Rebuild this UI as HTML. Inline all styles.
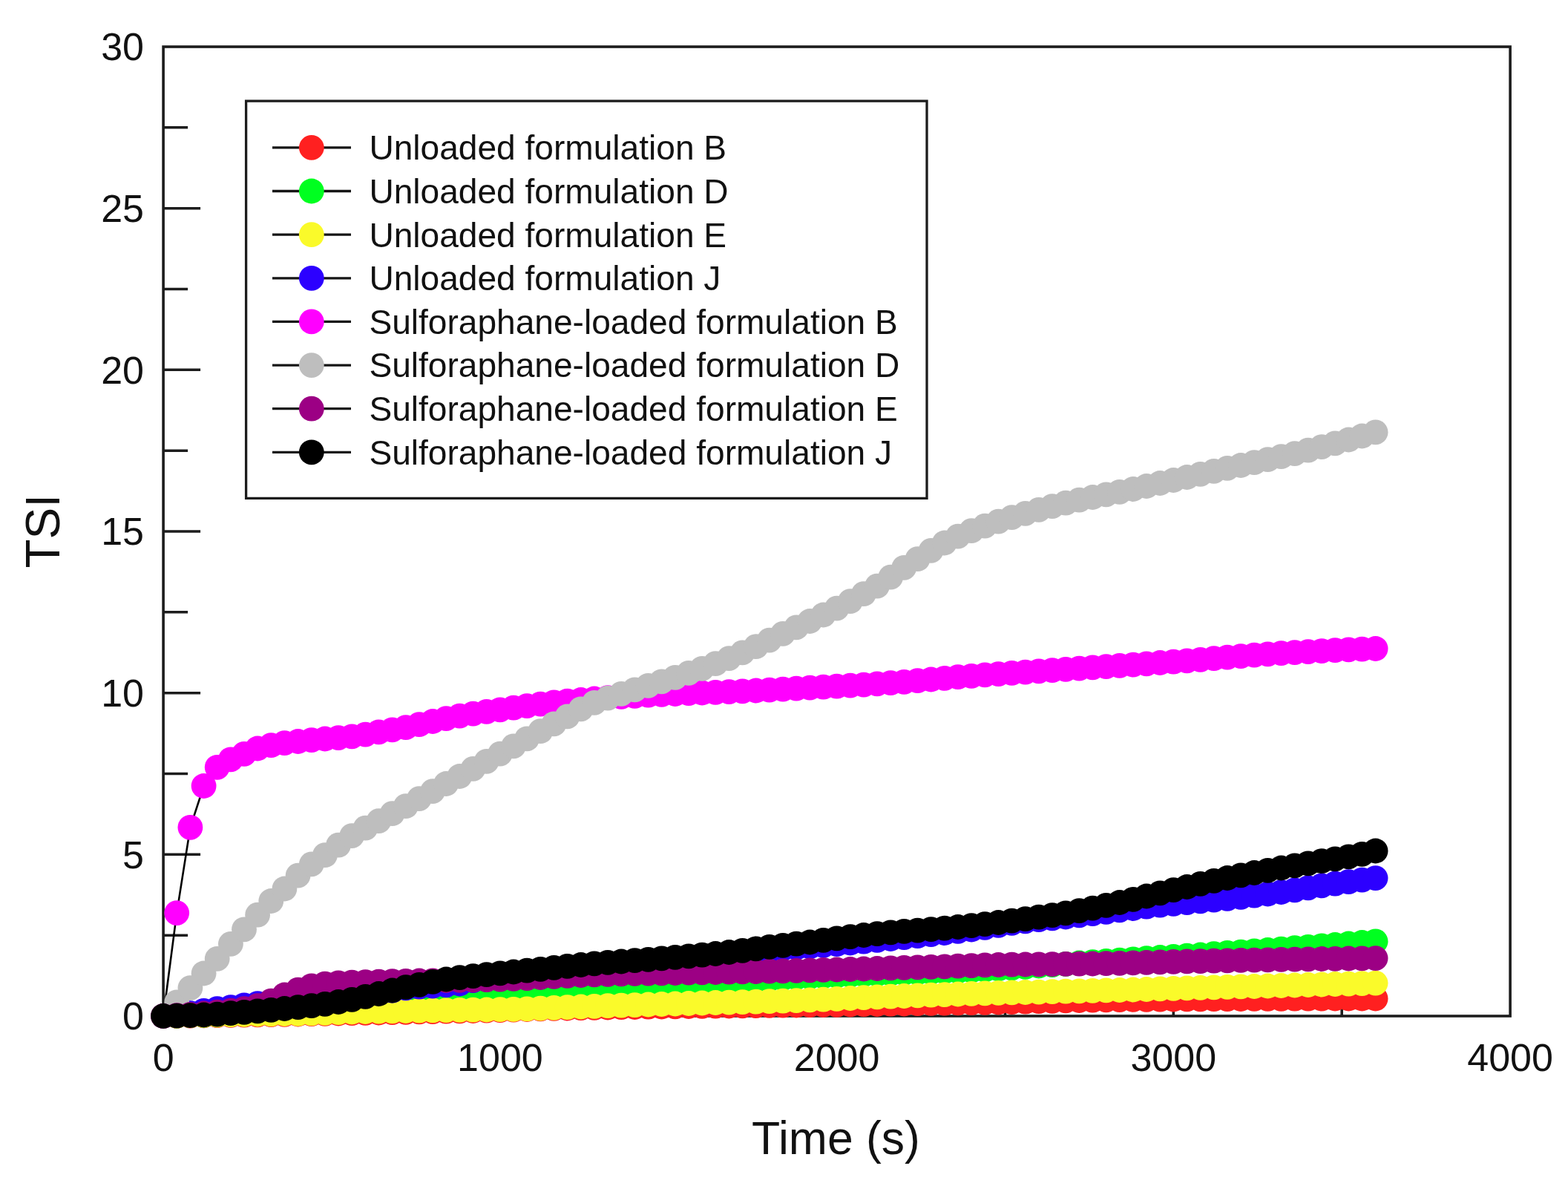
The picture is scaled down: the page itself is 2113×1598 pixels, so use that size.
<!DOCTYPE html><html><head><meta charset="utf-8"><title>TSI vs Time</title>
<style>html,body{margin:0;padding:0;background:#fff;overflow:hidden;}svg{display:block;} #wrap{width:2113px;height:1598px;}text{font-family:"Liberation Sans",Arial,sans-serif;fill:#111;}</style></head><body>
<div id="wrap">
<svg width="2113" height="1598" viewBox="0 0 2113 1598">
<rect x="0" y="0" width="2113" height="1598" fill="#fff"/>
<path d="M220.1 1260.2H253.1 M220.1 1151.3H270.1 M220.1 1042.5H253.1 M220.1 933.7H270.1 M220.1 824.8H253.1 M220.1 716.0H270.1 M220.1 607.2H253.1 M220.1 498.3H270.1 M220.1 389.5H253.1 M220.1 280.7H270.1 M220.1 171.8H253.1 M447.0 1369.0V1336.0 M673.9 1369.0V1319.0 M900.7 1369.0V1336.0 M1127.6 1369.0V1319.0 M1354.5 1369.0V1336.0 M1581.3 1369.0V1319.0 M1808.2 1369.0V1336.0" stroke="#1c1c1c" stroke-width="3.6" fill="none"/>
<rect x="220.1" y="63.0" width="1815.0" height="1306.0" fill="none" stroke="#1c1c1c" stroke-width="3.6"/>
<path d="M220.1 1369.0 L238.2 1368.8 L256.4 1368.6 L274.6 1368.4 L292.7 1368.1 L310.9 1367.9 L329.0 1367.7 L347.1 1367.4 L365.3 1367.1 L383.4 1366.8 L401.6 1366.5 L419.8 1366.2 L437.9 1365.9 L456.0 1365.5 L474.2 1365.2 L492.4 1364.8 L510.5 1364.5 L528.6 1364.1 L546.8 1363.8 L564.9 1363.4 L583.1 1363.1 L601.2 1362.7 L619.4 1362.4 L637.5 1362.0 L655.7 1361.6 L673.9 1361.2 L692.0 1360.6 L710.1 1360.0 L728.3 1359.4 L746.5 1358.9 L764.6 1358.5 L782.8 1358.1 L800.9 1357.8 L819.0 1357.5 L837.2 1357.2 L855.4 1357.0 L873.5 1356.7 L891.6 1356.5 L909.8 1356.3 L928.0 1356.0 L946.1 1355.8 L964.2 1355.7 L982.4 1355.5 L1000.5 1355.3 L1018.7 1355.1 L1036.8 1354.9 L1055.0 1354.7 L1073.1 1354.5 L1091.3 1354.2 L1109.5 1354.0 L1127.6 1353.8 L1145.8 1353.5 L1163.9 1353.2 L1182.0 1353.0 L1200.2 1352.7 L1218.3 1352.5 L1236.5 1352.2 L1254.6 1351.9 L1272.8 1351.7 L1290.9 1351.4 L1309.1 1351.1 L1327.2 1350.8 L1345.4 1350.5 L1363.5 1350.1 L1381.7 1349.7 L1399.8 1349.2 L1418.0 1348.8 L1436.1 1348.4 L1454.3 1348.0 L1472.4 1347.7 L1490.6 1347.4 L1508.7 1347.1 L1526.9 1346.9 L1545.0 1346.8 L1563.2 1346.6 L1581.3 1346.5 L1599.5 1346.4 L1617.6 1346.3 L1635.8 1346.2 L1653.9 1346.1 L1672.1 1346.0 L1690.2 1345.9 L1708.4 1345.8 L1726.5 1345.8 L1744.7 1345.7 L1762.8 1345.6 L1781.0 1345.6 L1799.1 1345.5 L1817.3 1345.5 L1835.4 1345.5 L1853.6 1345.5" stroke="#000" stroke-width="2.6" fill="none"/>
<g fill="#ff2020"><circle cx="220.1" cy="1369.0" r="16.9"/><circle cx="238.2" cy="1368.8" r="16.9"/><circle cx="256.4" cy="1368.6" r="16.9"/><circle cx="274.6" cy="1368.4" r="16.9"/><circle cx="292.7" cy="1368.1" r="16.9"/><circle cx="310.9" cy="1367.9" r="16.9"/><circle cx="329.0" cy="1367.7" r="16.9"/><circle cx="347.1" cy="1367.4" r="16.9"/><circle cx="365.3" cy="1367.1" r="16.9"/><circle cx="383.4" cy="1366.8" r="16.9"/><circle cx="401.6" cy="1366.5" r="16.9"/><circle cx="419.8" cy="1366.2" r="16.9"/><circle cx="437.9" cy="1365.9" r="16.9"/><circle cx="456.0" cy="1365.5" r="16.9"/><circle cx="474.2" cy="1365.2" r="16.9"/><circle cx="492.4" cy="1364.8" r="16.9"/><circle cx="510.5" cy="1364.5" r="16.9"/><circle cx="528.6" cy="1364.1" r="16.9"/><circle cx="546.8" cy="1363.8" r="16.9"/><circle cx="564.9" cy="1363.4" r="16.9"/><circle cx="583.1" cy="1363.1" r="16.9"/><circle cx="601.2" cy="1362.7" r="16.9"/><circle cx="619.4" cy="1362.4" r="16.9"/><circle cx="637.5" cy="1362.0" r="16.9"/><circle cx="655.7" cy="1361.6" r="16.9"/><circle cx="673.9" cy="1361.2" r="16.9"/><circle cx="692.0" cy="1360.6" r="16.9"/><circle cx="710.1" cy="1360.0" r="16.9"/><circle cx="728.3" cy="1359.4" r="16.9"/><circle cx="746.5" cy="1358.9" r="16.9"/><circle cx="764.6" cy="1358.5" r="16.9"/><circle cx="782.8" cy="1358.1" r="16.9"/><circle cx="800.9" cy="1357.8" r="16.9"/><circle cx="819.0" cy="1357.5" r="16.9"/><circle cx="837.2" cy="1357.2" r="16.9"/><circle cx="855.4" cy="1357.0" r="16.9"/><circle cx="873.5" cy="1356.7" r="16.9"/><circle cx="891.6" cy="1356.5" r="16.9"/><circle cx="909.8" cy="1356.3" r="16.9"/><circle cx="928.0" cy="1356.0" r="16.9"/><circle cx="946.1" cy="1355.8" r="16.9"/><circle cx="964.2" cy="1355.7" r="16.9"/><circle cx="982.4" cy="1355.5" r="16.9"/><circle cx="1000.5" cy="1355.3" r="16.9"/><circle cx="1018.7" cy="1355.1" r="16.9"/><circle cx="1036.8" cy="1354.9" r="16.9"/><circle cx="1055.0" cy="1354.7" r="16.9"/><circle cx="1073.1" cy="1354.5" r="16.9"/><circle cx="1091.3" cy="1354.2" r="16.9"/><circle cx="1109.5" cy="1354.0" r="16.9"/><circle cx="1127.6" cy="1353.8" r="16.9"/><circle cx="1145.8" cy="1353.5" r="16.9"/><circle cx="1163.9" cy="1353.2" r="16.9"/><circle cx="1182.0" cy="1353.0" r="16.9"/><circle cx="1200.2" cy="1352.7" r="16.9"/><circle cx="1218.3" cy="1352.5" r="16.9"/><circle cx="1236.5" cy="1352.2" r="16.9"/><circle cx="1254.6" cy="1351.9" r="16.9"/><circle cx="1272.8" cy="1351.7" r="16.9"/><circle cx="1290.9" cy="1351.4" r="16.9"/><circle cx="1309.1" cy="1351.1" r="16.9"/><circle cx="1327.2" cy="1350.8" r="16.9"/><circle cx="1345.4" cy="1350.5" r="16.9"/><circle cx="1363.5" cy="1350.1" r="16.9"/><circle cx="1381.7" cy="1349.7" r="16.9"/><circle cx="1399.8" cy="1349.2" r="16.9"/><circle cx="1418.0" cy="1348.8" r="16.9"/><circle cx="1436.1" cy="1348.4" r="16.9"/><circle cx="1454.3" cy="1348.0" r="16.9"/><circle cx="1472.4" cy="1347.7" r="16.9"/><circle cx="1490.6" cy="1347.4" r="16.9"/><circle cx="1508.7" cy="1347.1" r="16.9"/><circle cx="1526.9" cy="1346.9" r="16.9"/><circle cx="1545.0" cy="1346.8" r="16.9"/><circle cx="1563.2" cy="1346.6" r="16.9"/><circle cx="1581.3" cy="1346.5" r="16.9"/><circle cx="1599.5" cy="1346.4" r="16.9"/><circle cx="1617.6" cy="1346.3" r="16.9"/><circle cx="1635.8" cy="1346.2" r="16.9"/><circle cx="1653.9" cy="1346.1" r="16.9"/><circle cx="1672.1" cy="1346.0" r="16.9"/><circle cx="1690.2" cy="1345.9" r="16.9"/><circle cx="1708.4" cy="1345.8" r="16.9"/><circle cx="1726.5" cy="1345.8" r="16.9"/><circle cx="1744.7" cy="1345.7" r="16.9"/><circle cx="1762.8" cy="1345.6" r="16.9"/><circle cx="1781.0" cy="1345.6" r="16.9"/><circle cx="1799.1" cy="1345.5" r="16.9"/><circle cx="1817.3" cy="1345.5" r="16.9"/><circle cx="1835.4" cy="1345.5" r="16.9"/><circle cx="1853.6" cy="1345.5" r="16.9"/></g>
<path d="M220.1 1369.0 L238.2 1368.6 L256.4 1368.2 L274.6 1367.8 L292.7 1367.3 L310.9 1366.8 L329.0 1366.3 L347.1 1365.7 L365.3 1365.1 L383.4 1364.5 L401.6 1363.8 L419.8 1363.0 L437.9 1362.2 L456.0 1361.3 L474.2 1360.4 L492.4 1359.4 L510.5 1358.4 L528.6 1357.3 L546.8 1356.1 L564.9 1354.9 L583.1 1353.8 L601.2 1352.6 L619.4 1351.5 L637.5 1350.4 L655.7 1349.3 L673.9 1348.1 L692.0 1346.9 L710.1 1345.8 L728.3 1344.6 L746.5 1343.3 L764.6 1342.0 L782.8 1340.5 L800.9 1339.0 L819.0 1337.3 L837.2 1335.6 L855.4 1333.8 L873.5 1332.2 L891.6 1330.6 L909.8 1329.1 L928.0 1327.6 L946.1 1326.2 L964.2 1324.8 L982.4 1323.4 L1000.5 1322.0 L1018.7 1320.7 L1036.8 1319.5 L1055.0 1318.3 L1073.1 1317.3 L1091.3 1316.3 L1109.5 1315.5 L1127.6 1314.7 L1145.8 1313.9 L1163.9 1313.2 L1182.0 1312.5 L1200.2 1311.8 L1218.3 1311.1 L1236.5 1310.5 L1254.6 1309.9 L1272.8 1309.2 L1290.9 1308.5 L1309.1 1307.7 L1327.2 1306.7 L1345.4 1305.5 L1363.5 1304.3 L1381.7 1302.9 L1399.8 1301.5 L1418.0 1300.2 L1436.1 1298.8 L1454.3 1297.5 L1472.4 1296.1 L1490.6 1294.8 L1508.7 1293.6 L1526.9 1292.4 L1545.0 1291.2 L1563.2 1290.0 L1581.3 1288.9 L1599.5 1287.7 L1617.6 1286.5 L1635.8 1285.2 L1653.9 1283.9 L1672.1 1282.6 L1690.2 1281.3 L1708.4 1280.0 L1726.5 1278.6 L1744.7 1277.2 L1762.8 1275.8 L1781.0 1274.4 L1799.1 1273.0 L1817.3 1271.5 L1835.4 1270.0 L1853.6 1268.4" stroke="#000" stroke-width="2.6" fill="none"/>
<g fill="#00ff20"><circle cx="220.1" cy="1369.0" r="16.9"/><circle cx="238.2" cy="1368.6" r="16.9"/><circle cx="256.4" cy="1368.2" r="16.9"/><circle cx="274.6" cy="1367.8" r="16.9"/><circle cx="292.7" cy="1367.3" r="16.9"/><circle cx="310.9" cy="1366.8" r="16.9"/><circle cx="329.0" cy="1366.3" r="16.9"/><circle cx="347.1" cy="1365.7" r="16.9"/><circle cx="365.3" cy="1365.1" r="16.9"/><circle cx="383.4" cy="1364.5" r="16.9"/><circle cx="401.6" cy="1363.8" r="16.9"/><circle cx="419.8" cy="1363.0" r="16.9"/><circle cx="437.9" cy="1362.2" r="16.9"/><circle cx="456.0" cy="1361.3" r="16.9"/><circle cx="474.2" cy="1360.4" r="16.9"/><circle cx="492.4" cy="1359.4" r="16.9"/><circle cx="510.5" cy="1358.4" r="16.9"/><circle cx="528.6" cy="1357.3" r="16.9"/><circle cx="546.8" cy="1356.1" r="16.9"/><circle cx="564.9" cy="1354.9" r="16.9"/><circle cx="583.1" cy="1353.8" r="16.9"/><circle cx="601.2" cy="1352.6" r="16.9"/><circle cx="619.4" cy="1351.5" r="16.9"/><circle cx="637.5" cy="1350.4" r="16.9"/><circle cx="655.7" cy="1349.3" r="16.9"/><circle cx="673.9" cy="1348.1" r="16.9"/><circle cx="692.0" cy="1346.9" r="16.9"/><circle cx="710.1" cy="1345.8" r="16.9"/><circle cx="728.3" cy="1344.6" r="16.9"/><circle cx="746.5" cy="1343.3" r="16.9"/><circle cx="764.6" cy="1342.0" r="16.9"/><circle cx="782.8" cy="1340.5" r="16.9"/><circle cx="800.9" cy="1339.0" r="16.9"/><circle cx="819.0" cy="1337.3" r="16.9"/><circle cx="837.2" cy="1335.6" r="16.9"/><circle cx="855.4" cy="1333.8" r="16.9"/><circle cx="873.5" cy="1332.2" r="16.9"/><circle cx="891.6" cy="1330.6" r="16.9"/><circle cx="909.8" cy="1329.1" r="16.9"/><circle cx="928.0" cy="1327.6" r="16.9"/><circle cx="946.1" cy="1326.2" r="16.9"/><circle cx="964.2" cy="1324.8" r="16.9"/><circle cx="982.4" cy="1323.4" r="16.9"/><circle cx="1000.5" cy="1322.0" r="16.9"/><circle cx="1018.7" cy="1320.7" r="16.9"/><circle cx="1036.8" cy="1319.5" r="16.9"/><circle cx="1055.0" cy="1318.3" r="16.9"/><circle cx="1073.1" cy="1317.3" r="16.9"/><circle cx="1091.3" cy="1316.3" r="16.9"/><circle cx="1109.5" cy="1315.5" r="16.9"/><circle cx="1127.6" cy="1314.7" r="16.9"/><circle cx="1145.8" cy="1313.9" r="16.9"/><circle cx="1163.9" cy="1313.2" r="16.9"/><circle cx="1182.0" cy="1312.5" r="16.9"/><circle cx="1200.2" cy="1311.8" r="16.9"/><circle cx="1218.3" cy="1311.1" r="16.9"/><circle cx="1236.5" cy="1310.5" r="16.9"/><circle cx="1254.6" cy="1309.9" r="16.9"/><circle cx="1272.8" cy="1309.2" r="16.9"/><circle cx="1290.9" cy="1308.5" r="16.9"/><circle cx="1309.1" cy="1307.7" r="16.9"/><circle cx="1327.2" cy="1306.7" r="16.9"/><circle cx="1345.4" cy="1305.5" r="16.9"/><circle cx="1363.5" cy="1304.3" r="16.9"/><circle cx="1381.7" cy="1302.9" r="16.9"/><circle cx="1399.8" cy="1301.5" r="16.9"/><circle cx="1418.0" cy="1300.2" r="16.9"/><circle cx="1436.1" cy="1298.8" r="16.9"/><circle cx="1454.3" cy="1297.5" r="16.9"/><circle cx="1472.4" cy="1296.1" r="16.9"/><circle cx="1490.6" cy="1294.8" r="16.9"/><circle cx="1508.7" cy="1293.6" r="16.9"/><circle cx="1526.9" cy="1292.4" r="16.9"/><circle cx="1545.0" cy="1291.2" r="16.9"/><circle cx="1563.2" cy="1290.0" r="16.9"/><circle cx="1581.3" cy="1288.9" r="16.9"/><circle cx="1599.5" cy="1287.7" r="16.9"/><circle cx="1617.6" cy="1286.5" r="16.9"/><circle cx="1635.8" cy="1285.2" r="16.9"/><circle cx="1653.9" cy="1283.9" r="16.9"/><circle cx="1672.1" cy="1282.6" r="16.9"/><circle cx="1690.2" cy="1281.3" r="16.9"/><circle cx="1708.4" cy="1280.0" r="16.9"/><circle cx="1726.5" cy="1278.6" r="16.9"/><circle cx="1744.7" cy="1277.2" r="16.9"/><circle cx="1762.8" cy="1275.8" r="16.9"/><circle cx="1781.0" cy="1274.4" r="16.9"/><circle cx="1799.1" cy="1273.0" r="16.9"/><circle cx="1817.3" cy="1271.5" r="16.9"/><circle cx="1835.4" cy="1270.0" r="16.9"/><circle cx="1853.6" cy="1268.4" r="16.9"/></g>
<path d="M220.1 1369.0 L238.2 1368.6 L256.4 1368.2 L274.6 1367.9 L292.7 1367.5 L310.9 1367.2 L329.0 1366.8 L347.1 1366.5 L365.3 1366.3 L383.4 1366.0 L401.6 1365.8 L419.8 1365.4 L437.9 1364.9 L456.0 1364.2 L474.2 1363.5 L492.4 1363.0 L510.5 1362.6 L528.6 1362.3 L546.8 1362.0 L564.9 1361.7 L583.1 1361.4 L601.2 1361.1 L619.4 1360.9 L637.5 1360.7 L655.7 1360.5 L673.9 1360.2 L692.0 1359.9 L710.1 1359.4 L728.3 1358.6 L746.5 1357.8 L764.6 1357.1 L782.8 1356.5 L800.9 1355.8 L819.0 1355.2 L837.2 1354.7 L855.4 1354.1 L873.5 1353.5 L891.6 1353.0 L909.8 1352.5 L928.0 1352.0 L946.1 1351.5 L964.2 1351.0 L982.4 1350.6 L1000.5 1350.1 L1018.7 1349.7 L1036.8 1349.2 L1055.0 1348.7 L1073.1 1348.1 L1091.3 1347.4 L1109.5 1346.7 L1127.6 1345.9 L1145.8 1345.0 L1163.9 1344.2 L1182.0 1343.4 L1200.2 1342.7 L1218.3 1342.0 L1236.5 1341.4 L1254.6 1340.7 L1272.8 1340.1 L1290.9 1339.5 L1309.1 1338.9 L1327.2 1338.4 L1345.4 1337.9 L1363.5 1337.4 L1381.7 1337.0 L1399.8 1336.6 L1418.0 1336.1 L1436.1 1335.7 L1454.3 1335.3 L1472.4 1334.9 L1490.6 1334.4 L1508.7 1334.0 L1526.9 1333.5 L1545.0 1333.0 L1563.2 1332.4 L1581.3 1331.9 L1599.5 1331.4 L1617.6 1330.9 L1635.8 1330.4 L1653.9 1329.9 L1672.1 1329.4 L1690.2 1329.0 L1708.4 1328.5 L1726.5 1328.0 L1744.7 1327.5 L1762.8 1327.0 L1781.0 1326.5 L1799.1 1326.0 L1817.3 1325.6 L1835.4 1325.1 L1853.6 1324.6" stroke="#000" stroke-width="2.6" fill="none"/>
<g fill="#fafa2a"><circle cx="220.1" cy="1369.0" r="16.9"/><circle cx="238.2" cy="1368.6" r="16.9"/><circle cx="256.4" cy="1368.2" r="16.9"/><circle cx="274.6" cy="1367.9" r="16.9"/><circle cx="292.7" cy="1367.5" r="16.9"/><circle cx="310.9" cy="1367.2" r="16.9"/><circle cx="329.0" cy="1366.8" r="16.9"/><circle cx="347.1" cy="1366.5" r="16.9"/><circle cx="365.3" cy="1366.3" r="16.9"/><circle cx="383.4" cy="1366.0" r="16.9"/><circle cx="401.6" cy="1365.8" r="16.9"/><circle cx="419.8" cy="1365.4" r="16.9"/><circle cx="437.9" cy="1364.9" r="16.9"/><circle cx="456.0" cy="1364.2" r="16.9"/><circle cx="474.2" cy="1363.5" r="16.9"/><circle cx="492.4" cy="1363.0" r="16.9"/><circle cx="510.5" cy="1362.6" r="16.9"/><circle cx="528.6" cy="1362.3" r="16.9"/><circle cx="546.8" cy="1362.0" r="16.9"/><circle cx="564.9" cy="1361.7" r="16.9"/><circle cx="583.1" cy="1361.4" r="16.9"/><circle cx="601.2" cy="1361.1" r="16.9"/><circle cx="619.4" cy="1360.9" r="16.9"/><circle cx="637.5" cy="1360.7" r="16.9"/><circle cx="655.7" cy="1360.5" r="16.9"/><circle cx="673.9" cy="1360.2" r="16.9"/><circle cx="692.0" cy="1359.9" r="16.9"/><circle cx="710.1" cy="1359.4" r="16.9"/><circle cx="728.3" cy="1358.6" r="16.9"/><circle cx="746.5" cy="1357.8" r="16.9"/><circle cx="764.6" cy="1357.1" r="16.9"/><circle cx="782.8" cy="1356.5" r="16.9"/><circle cx="800.9" cy="1355.8" r="16.9"/><circle cx="819.0" cy="1355.2" r="16.9"/><circle cx="837.2" cy="1354.7" r="16.9"/><circle cx="855.4" cy="1354.1" r="16.9"/><circle cx="873.5" cy="1353.5" r="16.9"/><circle cx="891.6" cy="1353.0" r="16.9"/><circle cx="909.8" cy="1352.5" r="16.9"/><circle cx="928.0" cy="1352.0" r="16.9"/><circle cx="946.1" cy="1351.5" r="16.9"/><circle cx="964.2" cy="1351.0" r="16.9"/><circle cx="982.4" cy="1350.6" r="16.9"/><circle cx="1000.5" cy="1350.1" r="16.9"/><circle cx="1018.7" cy="1349.7" r="16.9"/><circle cx="1036.8" cy="1349.2" r="16.9"/><circle cx="1055.0" cy="1348.7" r="16.9"/><circle cx="1073.1" cy="1348.1" r="16.9"/><circle cx="1091.3" cy="1347.4" r="16.9"/><circle cx="1109.5" cy="1346.7" r="16.9"/><circle cx="1127.6" cy="1345.9" r="16.9"/><circle cx="1145.8" cy="1345.0" r="16.9"/><circle cx="1163.9" cy="1344.2" r="16.9"/><circle cx="1182.0" cy="1343.4" r="16.9"/><circle cx="1200.2" cy="1342.7" r="16.9"/><circle cx="1218.3" cy="1342.0" r="16.9"/><circle cx="1236.5" cy="1341.4" r="16.9"/><circle cx="1254.6" cy="1340.7" r="16.9"/><circle cx="1272.8" cy="1340.1" r="16.9"/><circle cx="1290.9" cy="1339.5" r="16.9"/><circle cx="1309.1" cy="1338.9" r="16.9"/><circle cx="1327.2" cy="1338.4" r="16.9"/><circle cx="1345.4" cy="1337.9" r="16.9"/><circle cx="1363.5" cy="1337.4" r="16.9"/><circle cx="1381.7" cy="1337.0" r="16.9"/><circle cx="1399.8" cy="1336.6" r="16.9"/><circle cx="1418.0" cy="1336.1" r="16.9"/><circle cx="1436.1" cy="1335.7" r="16.9"/><circle cx="1454.3" cy="1335.3" r="16.9"/><circle cx="1472.4" cy="1334.9" r="16.9"/><circle cx="1490.6" cy="1334.4" r="16.9"/><circle cx="1508.7" cy="1334.0" r="16.9"/><circle cx="1526.9" cy="1333.5" r="16.9"/><circle cx="1545.0" cy="1333.0" r="16.9"/><circle cx="1563.2" cy="1332.4" r="16.9"/><circle cx="1581.3" cy="1331.9" r="16.9"/><circle cx="1599.5" cy="1331.4" r="16.9"/><circle cx="1617.6" cy="1330.9" r="16.9"/><circle cx="1635.8" cy="1330.4" r="16.9"/><circle cx="1653.9" cy="1329.9" r="16.9"/><circle cx="1672.1" cy="1329.4" r="16.9"/><circle cx="1690.2" cy="1329.0" r="16.9"/><circle cx="1708.4" cy="1328.5" r="16.9"/><circle cx="1726.5" cy="1328.0" r="16.9"/><circle cx="1744.7" cy="1327.5" r="16.9"/><circle cx="1762.8" cy="1327.0" r="16.9"/><circle cx="1781.0" cy="1326.5" r="16.9"/><circle cx="1799.1" cy="1326.0" r="16.9"/><circle cx="1817.3" cy="1325.6" r="16.9"/><circle cx="1835.4" cy="1325.1" r="16.9"/><circle cx="1853.6" cy="1324.6" r="16.9"/></g>
<path d="M220.1 1369.0 L238.2 1367.4 L256.4 1365.1 L274.6 1361.8 L292.7 1359.2 L310.9 1357.1 L329.0 1354.3 L347.1 1352.1 L365.3 1350.3 L383.4 1348.8 L401.6 1347.2 L419.8 1345.5 L437.9 1343.7 L456.0 1342.2 L474.2 1340.9 L492.4 1339.4 L510.5 1337.5 L528.6 1334.7 L546.8 1331.4 L564.9 1329.7 L583.1 1328.6 L601.2 1327.4 L619.4 1325.5 L637.5 1321.1 L655.7 1318.1 L673.9 1315.9 L692.0 1314.1 L710.1 1312.4 L728.3 1310.6 L746.5 1308.9 L764.6 1307.2 L782.8 1305.7 L800.9 1304.4 L819.0 1303.2 L837.2 1301.9 L855.4 1300.7 L873.5 1299.4 L891.6 1298.0 L909.8 1296.3 L928.0 1294.5 L946.1 1292.6 L964.2 1290.5 L982.4 1288.3 L1000.5 1285.9 L1018.7 1283.2 L1036.8 1280.5 L1055.0 1278.4 L1073.1 1277.0 L1091.3 1275.5 L1109.5 1273.9 L1127.6 1272.2 L1145.8 1270.5 L1163.9 1268.7 L1182.0 1266.9 L1200.2 1265.0 L1218.3 1263.1 L1236.5 1261.2 L1254.6 1259.1 L1272.8 1257.0 L1290.9 1254.8 L1309.1 1252.5 L1327.2 1249.8 L1345.4 1246.8 L1363.5 1243.8 L1381.7 1241.3 L1399.8 1239.2 L1418.0 1237.4 L1436.1 1235.5 L1454.3 1233.3 L1472.4 1231.1 L1490.6 1228.8 L1508.7 1226.4 L1526.9 1224.0 L1545.0 1221.7 L1563.2 1219.7 L1581.3 1217.9 L1599.5 1216.1 L1617.6 1214.3 L1635.8 1212.6 L1653.9 1210.8 L1672.1 1208.8 L1690.2 1206.7 L1708.4 1204.5 L1726.5 1202.0 L1744.7 1199.3 L1762.8 1196.3 L1781.0 1193.4 L1799.1 1190.7 L1817.3 1188.2 L1835.4 1185.6 L1853.6 1183.1" stroke="#000" stroke-width="2.6" fill="none"/>
<g fill="#2c00ff"><circle cx="220.1" cy="1369.0" r="16.9"/><circle cx="238.2" cy="1367.4" r="16.9"/><circle cx="256.4" cy="1365.1" r="16.9"/><circle cx="274.6" cy="1361.8" r="16.9"/><circle cx="292.7" cy="1359.2" r="16.9"/><circle cx="310.9" cy="1357.1" r="16.9"/><circle cx="329.0" cy="1354.3" r="16.9"/><circle cx="347.1" cy="1352.1" r="16.9"/><circle cx="365.3" cy="1350.3" r="16.9"/><circle cx="383.4" cy="1348.8" r="16.9"/><circle cx="401.6" cy="1347.2" r="16.9"/><circle cx="419.8" cy="1345.5" r="16.9"/><circle cx="437.9" cy="1343.7" r="16.9"/><circle cx="456.0" cy="1342.2" r="16.9"/><circle cx="474.2" cy="1340.9" r="16.9"/><circle cx="492.4" cy="1339.4" r="16.9"/><circle cx="510.5" cy="1337.5" r="16.9"/><circle cx="528.6" cy="1334.7" r="16.9"/><circle cx="546.8" cy="1331.4" r="16.9"/><circle cx="564.9" cy="1329.7" r="16.9"/><circle cx="583.1" cy="1328.6" r="16.9"/><circle cx="601.2" cy="1327.4" r="16.9"/><circle cx="619.4" cy="1325.5" r="16.9"/><circle cx="637.5" cy="1321.1" r="16.9"/><circle cx="655.7" cy="1318.1" r="16.9"/><circle cx="673.9" cy="1315.9" r="16.9"/><circle cx="692.0" cy="1314.1" r="16.9"/><circle cx="710.1" cy="1312.4" r="16.9"/><circle cx="728.3" cy="1310.6" r="16.9"/><circle cx="746.5" cy="1308.9" r="16.9"/><circle cx="764.6" cy="1307.2" r="16.9"/><circle cx="782.8" cy="1305.7" r="16.9"/><circle cx="800.9" cy="1304.4" r="16.9"/><circle cx="819.0" cy="1303.2" r="16.9"/><circle cx="837.2" cy="1301.9" r="16.9"/><circle cx="855.4" cy="1300.7" r="16.9"/><circle cx="873.5" cy="1299.4" r="16.9"/><circle cx="891.6" cy="1298.0" r="16.9"/><circle cx="909.8" cy="1296.3" r="16.9"/><circle cx="928.0" cy="1294.5" r="16.9"/><circle cx="946.1" cy="1292.6" r="16.9"/><circle cx="964.2" cy="1290.5" r="16.9"/><circle cx="982.4" cy="1288.3" r="16.9"/><circle cx="1000.5" cy="1285.9" r="16.9"/><circle cx="1018.7" cy="1283.2" r="16.9"/><circle cx="1036.8" cy="1280.5" r="16.9"/><circle cx="1055.0" cy="1278.4" r="16.9"/><circle cx="1073.1" cy="1277.0" r="16.9"/><circle cx="1091.3" cy="1275.5" r="16.9"/><circle cx="1109.5" cy="1273.9" r="16.9"/><circle cx="1127.6" cy="1272.2" r="16.9"/><circle cx="1145.8" cy="1270.5" r="16.9"/><circle cx="1163.9" cy="1268.7" r="16.9"/><circle cx="1182.0" cy="1266.9" r="16.9"/><circle cx="1200.2" cy="1265.0" r="16.9"/><circle cx="1218.3" cy="1263.1" r="16.9"/><circle cx="1236.5" cy="1261.2" r="16.9"/><circle cx="1254.6" cy="1259.1" r="16.9"/><circle cx="1272.8" cy="1257.0" r="16.9"/><circle cx="1290.9" cy="1254.8" r="16.9"/><circle cx="1309.1" cy="1252.5" r="16.9"/><circle cx="1327.2" cy="1249.8" r="16.9"/><circle cx="1345.4" cy="1246.8" r="16.9"/><circle cx="1363.5" cy="1243.8" r="16.9"/><circle cx="1381.7" cy="1241.3" r="16.9"/><circle cx="1399.8" cy="1239.2" r="16.9"/><circle cx="1418.0" cy="1237.4" r="16.9"/><circle cx="1436.1" cy="1235.5" r="16.9"/><circle cx="1454.3" cy="1233.3" r="16.9"/><circle cx="1472.4" cy="1231.1" r="16.9"/><circle cx="1490.6" cy="1228.8" r="16.9"/><circle cx="1508.7" cy="1226.4" r="16.9"/><circle cx="1526.9" cy="1224.0" r="16.9"/><circle cx="1545.0" cy="1221.7" r="16.9"/><circle cx="1563.2" cy="1219.7" r="16.9"/><circle cx="1581.3" cy="1217.9" r="16.9"/><circle cx="1599.5" cy="1216.1" r="16.9"/><circle cx="1617.6" cy="1214.3" r="16.9"/><circle cx="1635.8" cy="1212.6" r="16.9"/><circle cx="1653.9" cy="1210.8" r="16.9"/><circle cx="1672.1" cy="1208.8" r="16.9"/><circle cx="1690.2" cy="1206.7" r="16.9"/><circle cx="1708.4" cy="1204.5" r="16.9"/><circle cx="1726.5" cy="1202.0" r="16.9"/><circle cx="1744.7" cy="1199.3" r="16.9"/><circle cx="1762.8" cy="1196.3" r="16.9"/><circle cx="1781.0" cy="1193.4" r="16.9"/><circle cx="1799.1" cy="1190.7" r="16.9"/><circle cx="1817.3" cy="1188.2" r="16.9"/><circle cx="1835.4" cy="1185.6" r="16.9"/><circle cx="1853.6" cy="1183.1" r="16.9"/></g>
<path d="M220.1 1369.0 L238.2 1230.1 L256.4 1114.8 L274.6 1059.0 L292.7 1033.8 L310.9 1023.3 L329.0 1015.9 L347.1 1008.5 L365.3 1004.2 L383.4 1001.1 L401.6 999.0 L419.8 997.1 L437.9 995.5 L456.0 994.1 L474.2 992.4 L492.4 989.6 L510.5 986.3 L528.6 983.4 L546.8 980.2 L564.9 976.2 L583.1 972.0 L601.2 968.1 L619.4 964.6 L637.5 961.6 L655.7 958.9 L673.9 956.3 L692.0 953.7 L710.1 951.1 L728.3 948.6 L746.5 946.4 L764.6 944.6 L782.8 943.0 L800.9 941.5 L819.0 940.1 L837.2 938.9 L855.4 937.8 L873.5 936.7 L891.6 935.8 L909.8 935.0 L928.0 934.2 L946.1 933.5 L964.2 932.8 L982.4 932.1 L1000.5 931.3 L1018.7 930.5 L1036.8 929.6 L1055.0 928.6 L1073.1 927.6 L1091.3 926.6 L1109.5 925.7 L1127.6 924.7 L1145.8 923.6 L1163.9 922.6 L1182.0 921.4 L1200.2 920.2 L1218.3 918.8 L1236.5 917.2 L1254.6 915.5 L1272.8 913.8 L1290.9 912.2 L1309.1 910.8 L1327.2 909.4 L1345.4 908.1 L1363.5 906.9 L1381.7 905.6 L1399.8 904.4 L1418.0 903.2 L1436.1 901.9 L1454.3 900.6 L1472.4 899.4 L1490.6 898.1 L1508.7 896.9 L1526.9 895.6 L1545.0 894.3 L1563.2 893.0 L1581.3 891.7 L1599.5 890.3 L1617.6 888.8 L1635.8 887.2 L1653.9 885.6 L1672.1 884.1 L1690.2 882.6 L1708.4 881.3 L1726.5 880.1 L1744.7 879.1 L1762.8 878.1 L1781.0 877.1 L1799.1 876.2 L1817.3 875.4 L1835.4 874.7 L1853.6 874.0" stroke="#000" stroke-width="2.6" fill="none"/>
<g fill="#ff00ff"><circle cx="220.1" cy="1369.0" r="16.9"/><circle cx="238.2" cy="1230.1" r="16.9"/><circle cx="256.4" cy="1114.8" r="16.9"/><circle cx="274.6" cy="1059.0" r="16.9"/><circle cx="292.7" cy="1033.8" r="16.9"/><circle cx="310.9" cy="1023.3" r="16.9"/><circle cx="329.0" cy="1015.9" r="16.9"/><circle cx="347.1" cy="1008.5" r="16.9"/><circle cx="365.3" cy="1004.2" r="16.9"/><circle cx="383.4" cy="1001.1" r="16.9"/><circle cx="401.6" cy="999.0" r="16.9"/><circle cx="419.8" cy="997.1" r="16.9"/><circle cx="437.9" cy="995.5" r="16.9"/><circle cx="456.0" cy="994.1" r="16.9"/><circle cx="474.2" cy="992.4" r="16.9"/><circle cx="492.4" cy="989.6" r="16.9"/><circle cx="510.5" cy="986.3" r="16.9"/><circle cx="528.6" cy="983.4" r="16.9"/><circle cx="546.8" cy="980.2" r="16.9"/><circle cx="564.9" cy="976.2" r="16.9"/><circle cx="583.1" cy="972.0" r="16.9"/><circle cx="601.2" cy="968.1" r="16.9"/><circle cx="619.4" cy="964.6" r="16.9"/><circle cx="637.5" cy="961.6" r="16.9"/><circle cx="655.7" cy="958.9" r="16.9"/><circle cx="673.9" cy="956.3" r="16.9"/><circle cx="692.0" cy="953.7" r="16.9"/><circle cx="710.1" cy="951.1" r="16.9"/><circle cx="728.3" cy="948.6" r="16.9"/><circle cx="746.5" cy="946.4" r="16.9"/><circle cx="764.6" cy="944.6" r="16.9"/><circle cx="782.8" cy="943.0" r="16.9"/><circle cx="800.9" cy="941.5" r="16.9"/><circle cx="819.0" cy="940.1" r="16.9"/><circle cx="837.2" cy="938.9" r="16.9"/><circle cx="855.4" cy="937.8" r="16.9"/><circle cx="873.5" cy="936.7" r="16.9"/><circle cx="891.6" cy="935.8" r="16.9"/><circle cx="909.8" cy="935.0" r="16.9"/><circle cx="928.0" cy="934.2" r="16.9"/><circle cx="946.1" cy="933.5" r="16.9"/><circle cx="964.2" cy="932.8" r="16.9"/><circle cx="982.4" cy="932.1" r="16.9"/><circle cx="1000.5" cy="931.3" r="16.9"/><circle cx="1018.7" cy="930.5" r="16.9"/><circle cx="1036.8" cy="929.6" r="16.9"/><circle cx="1055.0" cy="928.6" r="16.9"/><circle cx="1073.1" cy="927.6" r="16.9"/><circle cx="1091.3" cy="926.6" r="16.9"/><circle cx="1109.5" cy="925.7" r="16.9"/><circle cx="1127.6" cy="924.7" r="16.9"/><circle cx="1145.8" cy="923.6" r="16.9"/><circle cx="1163.9" cy="922.6" r="16.9"/><circle cx="1182.0" cy="921.4" r="16.9"/><circle cx="1200.2" cy="920.2" r="16.9"/><circle cx="1218.3" cy="918.8" r="16.9"/><circle cx="1236.5" cy="917.2" r="16.9"/><circle cx="1254.6" cy="915.5" r="16.9"/><circle cx="1272.8" cy="913.8" r="16.9"/><circle cx="1290.9" cy="912.2" r="16.9"/><circle cx="1309.1" cy="910.8" r="16.9"/><circle cx="1327.2" cy="909.4" r="16.9"/><circle cx="1345.4" cy="908.1" r="16.9"/><circle cx="1363.5" cy="906.9" r="16.9"/><circle cx="1381.7" cy="905.6" r="16.9"/><circle cx="1399.8" cy="904.4" r="16.9"/><circle cx="1418.0" cy="903.2" r="16.9"/><circle cx="1436.1" cy="901.9" r="16.9"/><circle cx="1454.3" cy="900.6" r="16.9"/><circle cx="1472.4" cy="899.4" r="16.9"/><circle cx="1490.6" cy="898.1" r="16.9"/><circle cx="1508.7" cy="896.9" r="16.9"/><circle cx="1526.9" cy="895.6" r="16.9"/><circle cx="1545.0" cy="894.3" r="16.9"/><circle cx="1563.2" cy="893.0" r="16.9"/><circle cx="1581.3" cy="891.7" r="16.9"/><circle cx="1599.5" cy="890.3" r="16.9"/><circle cx="1617.6" cy="888.8" r="16.9"/><circle cx="1635.8" cy="887.2" r="16.9"/><circle cx="1653.9" cy="885.6" r="16.9"/><circle cx="1672.1" cy="884.1" r="16.9"/><circle cx="1690.2" cy="882.6" r="16.9"/><circle cx="1708.4" cy="881.3" r="16.9"/><circle cx="1726.5" cy="880.1" r="16.9"/><circle cx="1744.7" cy="879.1" r="16.9"/><circle cx="1762.8" cy="878.1" r="16.9"/><circle cx="1781.0" cy="877.1" r="16.9"/><circle cx="1799.1" cy="876.2" r="16.9"/><circle cx="1817.3" cy="875.4" r="16.9"/><circle cx="1835.4" cy="874.7" r="16.9"/><circle cx="1853.6" cy="874.0" r="16.9"/></g>
<path d="M220.1 1369.0 L238.2 1350.3 L256.4 1331.1 L274.6 1311.5 L292.7 1291.9 L310.9 1271.9 L329.0 1252.3 L347.1 1232.7 L365.3 1214.0 L383.4 1197.5 L401.6 1179.6 L419.8 1164.4 L437.9 1152.2 L456.0 1138.7 L474.2 1126.1 L492.4 1115.7 L510.5 1106.1 L528.6 1096.2 L546.8 1086.2 L564.9 1076.1 L583.1 1066.1 L601.2 1056.0 L619.4 1046.0 L637.5 1035.9 L655.7 1025.8 L673.9 1015.6 L692.0 1005.4 L710.1 995.3 L728.3 985.2 L746.5 975.3 L764.6 965.4 L782.8 955.3 L800.9 946.8 L819.0 940.6 L837.2 934.9 L855.4 929.3 L873.5 923.8 L891.6 918.3 L909.8 912.8 L928.0 906.9 L946.1 900.8 L964.2 894.2 L982.4 887.1 L1000.5 879.4 L1018.7 871.2 L1036.8 862.6 L1055.0 853.9 L1073.1 845.4 L1091.3 837.0 L1109.5 828.5 L1127.6 819.6 L1145.8 810.2 L1163.9 800.2 L1182.0 789.6 L1200.2 777.6 L1218.3 764.8 L1236.5 753.2 L1254.6 741.9 L1272.8 731.5 L1290.9 722.6 L1309.1 715.2 L1327.2 708.6 L1345.4 702.6 L1363.5 697.1 L1381.7 691.9 L1399.8 686.9 L1418.0 682.1 L1436.1 677.7 L1454.3 673.7 L1472.4 670.0 L1490.6 666.4 L1508.7 662.8 L1526.9 659.0 L1545.0 655.0 L1563.2 651.0 L1581.3 647.0 L1599.5 643.0 L1617.6 638.9 L1635.8 634.9 L1653.9 630.9 L1672.1 627.0 L1690.2 623.2 L1708.4 619.2 L1726.5 615.2 L1744.7 611.1 L1762.8 606.7 L1781.0 602.1 L1799.1 597.4 L1817.3 592.5 L1835.4 587.5 L1853.6 582.4" stroke="#000" stroke-width="2.6" fill="none"/>
<g fill="#bebebe"><circle cx="220.1" cy="1369.0" r="16.9"/><circle cx="238.2" cy="1350.3" r="16.9"/><circle cx="256.4" cy="1331.1" r="16.9"/><circle cx="274.6" cy="1311.5" r="16.9"/><circle cx="292.7" cy="1291.9" r="16.9"/><circle cx="310.9" cy="1271.9" r="16.9"/><circle cx="329.0" cy="1252.3" r="16.9"/><circle cx="347.1" cy="1232.7" r="16.9"/><circle cx="365.3" cy="1214.0" r="16.9"/><circle cx="383.4" cy="1197.5" r="16.9"/><circle cx="401.6" cy="1179.6" r="16.9"/><circle cx="419.8" cy="1164.4" r="16.9"/><circle cx="437.9" cy="1152.2" r="16.9"/><circle cx="456.0" cy="1138.7" r="16.9"/><circle cx="474.2" cy="1126.1" r="16.9"/><circle cx="492.4" cy="1115.7" r="16.9"/><circle cx="510.5" cy="1106.1" r="16.9"/><circle cx="528.6" cy="1096.2" r="16.9"/><circle cx="546.8" cy="1086.2" r="16.9"/><circle cx="564.9" cy="1076.1" r="16.9"/><circle cx="583.1" cy="1066.1" r="16.9"/><circle cx="601.2" cy="1056.0" r="16.9"/><circle cx="619.4" cy="1046.0" r="16.9"/><circle cx="637.5" cy="1035.9" r="16.9"/><circle cx="655.7" cy="1025.8" r="16.9"/><circle cx="673.9" cy="1015.6" r="16.9"/><circle cx="692.0" cy="1005.4" r="16.9"/><circle cx="710.1" cy="995.3" r="16.9"/><circle cx="728.3" cy="985.2" r="16.9"/><circle cx="746.5" cy="975.3" r="16.9"/><circle cx="764.6" cy="965.4" r="16.9"/><circle cx="782.8" cy="955.3" r="16.9"/><circle cx="800.9" cy="946.8" r="16.9"/><circle cx="819.0" cy="940.6" r="16.9"/><circle cx="837.2" cy="934.9" r="16.9"/><circle cx="855.4" cy="929.3" r="16.9"/><circle cx="873.5" cy="923.8" r="16.9"/><circle cx="891.6" cy="918.3" r="16.9"/><circle cx="909.8" cy="912.8" r="16.9"/><circle cx="928.0" cy="906.9" r="16.9"/><circle cx="946.1" cy="900.8" r="16.9"/><circle cx="964.2" cy="894.2" r="16.9"/><circle cx="982.4" cy="887.1" r="16.9"/><circle cx="1000.5" cy="879.4" r="16.9"/><circle cx="1018.7" cy="871.2" r="16.9"/><circle cx="1036.8" cy="862.6" r="16.9"/><circle cx="1055.0" cy="853.9" r="16.9"/><circle cx="1073.1" cy="845.4" r="16.9"/><circle cx="1091.3" cy="837.0" r="16.9"/><circle cx="1109.5" cy="828.5" r="16.9"/><circle cx="1127.6" cy="819.6" r="16.9"/><circle cx="1145.8" cy="810.2" r="16.9"/><circle cx="1163.9" cy="800.2" r="16.9"/><circle cx="1182.0" cy="789.6" r="16.9"/><circle cx="1200.2" cy="777.6" r="16.9"/><circle cx="1218.3" cy="764.8" r="16.9"/><circle cx="1236.5" cy="753.2" r="16.9"/><circle cx="1254.6" cy="741.9" r="16.9"/><circle cx="1272.8" cy="731.5" r="16.9"/><circle cx="1290.9" cy="722.6" r="16.9"/><circle cx="1309.1" cy="715.2" r="16.9"/><circle cx="1327.2" cy="708.6" r="16.9"/><circle cx="1345.4" cy="702.6" r="16.9"/><circle cx="1363.5" cy="697.1" r="16.9"/><circle cx="1381.7" cy="691.9" r="16.9"/><circle cx="1399.8" cy="686.9" r="16.9"/><circle cx="1418.0" cy="682.1" r="16.9"/><circle cx="1436.1" cy="677.7" r="16.9"/><circle cx="1454.3" cy="673.7" r="16.9"/><circle cx="1472.4" cy="670.0" r="16.9"/><circle cx="1490.6" cy="666.4" r="16.9"/><circle cx="1508.7" cy="662.8" r="16.9"/><circle cx="1526.9" cy="659.0" r="16.9"/><circle cx="1545.0" cy="655.0" r="16.9"/><circle cx="1563.2" cy="651.0" r="16.9"/><circle cx="1581.3" cy="647.0" r="16.9"/><circle cx="1599.5" cy="643.0" r="16.9"/><circle cx="1617.6" cy="638.9" r="16.9"/><circle cx="1635.8" cy="634.9" r="16.9"/><circle cx="1653.9" cy="630.9" r="16.9"/><circle cx="1672.1" cy="627.0" r="16.9"/><circle cx="1690.2" cy="623.2" r="16.9"/><circle cx="1708.4" cy="619.2" r="16.9"/><circle cx="1726.5" cy="615.2" r="16.9"/><circle cx="1744.7" cy="611.1" r="16.9"/><circle cx="1762.8" cy="606.7" r="16.9"/><circle cx="1781.0" cy="602.1" r="16.9"/><circle cx="1799.1" cy="597.4" r="16.9"/><circle cx="1817.3" cy="592.5" r="16.9"/><circle cx="1835.4" cy="587.5" r="16.9"/><circle cx="1853.6" cy="582.4" r="16.9"/></g>
<path d="M220.1 1369.0 L238.2 1368.1 L256.4 1366.9 L274.6 1365.5 L292.7 1363.7 L310.9 1361.6 L329.0 1359.1 L347.1 1355.2 L365.3 1348.7 L383.4 1340.5 L401.6 1333.7 L419.8 1328.3 L437.9 1325.6 L456.0 1324.4 L474.2 1323.7 L492.4 1323.1 L510.5 1322.6 L528.6 1322.2 L546.8 1321.9 L564.9 1321.5 L583.1 1321.3 L601.2 1321.0 L619.4 1320.8 L637.5 1320.5 L655.7 1320.1 L673.9 1319.6 L692.0 1318.9 L710.1 1318.1 L728.3 1317.0 L746.5 1315.8 L764.6 1314.8 L782.8 1314.0 L800.9 1313.4 L819.0 1312.8 L837.2 1312.3 L855.4 1311.9 L873.5 1311.6 L891.6 1311.3 L909.8 1311.0 L928.0 1310.6 L946.1 1310.3 L964.2 1310.0 L982.4 1309.7 L1000.5 1309.3 L1018.7 1309.0 L1036.8 1308.6 L1055.0 1308.3 L1073.1 1307.8 L1091.3 1307.4 L1109.5 1306.9 L1127.6 1306.5 L1145.8 1306.0 L1163.9 1305.5 L1182.0 1305.0 L1200.2 1304.4 L1218.3 1303.9 L1236.5 1303.4 L1254.6 1302.8 L1272.8 1302.3 L1290.9 1301.7 L1309.1 1301.1 L1327.2 1300.4 L1345.4 1300.0 L1363.5 1299.7 L1381.7 1299.5 L1399.8 1299.3 L1418.0 1299.1 L1436.1 1298.9 L1454.3 1298.7 L1472.4 1298.5 L1490.6 1298.2 L1508.7 1297.9 L1526.9 1297.4 L1545.0 1296.9 L1563.2 1296.4 L1581.3 1295.9 L1599.5 1295.4 L1617.6 1295.1 L1635.8 1294.7 L1653.9 1294.3 L1672.1 1293.9 L1690.2 1293.6 L1708.4 1293.3 L1726.5 1292.9 L1744.7 1292.6 L1762.8 1292.3 L1781.0 1292.0 L1799.1 1291.8 L1817.3 1291.5 L1835.4 1291.3 L1853.6 1291.1" stroke="#000" stroke-width="2.6" fill="none"/>
<g fill="#9c0084"><circle cx="220.1" cy="1369.0" r="16.9"/><circle cx="238.2" cy="1368.1" r="16.9"/><circle cx="256.4" cy="1366.9" r="16.9"/><circle cx="274.6" cy="1365.5" r="16.9"/><circle cx="292.7" cy="1363.7" r="16.9"/><circle cx="310.9" cy="1361.6" r="16.9"/><circle cx="329.0" cy="1359.1" r="16.9"/><circle cx="347.1" cy="1355.2" r="16.9"/><circle cx="365.3" cy="1348.7" r="16.9"/><circle cx="383.4" cy="1340.5" r="16.9"/><circle cx="401.6" cy="1333.7" r="16.9"/><circle cx="419.8" cy="1328.3" r="16.9"/><circle cx="437.9" cy="1325.6" r="16.9"/><circle cx="456.0" cy="1324.4" r="16.9"/><circle cx="474.2" cy="1323.7" r="16.9"/><circle cx="492.4" cy="1323.1" r="16.9"/><circle cx="510.5" cy="1322.6" r="16.9"/><circle cx="528.6" cy="1322.2" r="16.9"/><circle cx="546.8" cy="1321.9" r="16.9"/><circle cx="564.9" cy="1321.5" r="16.9"/><circle cx="583.1" cy="1321.3" r="16.9"/><circle cx="601.2" cy="1321.0" r="16.9"/><circle cx="619.4" cy="1320.8" r="16.9"/><circle cx="637.5" cy="1320.5" r="16.9"/><circle cx="655.7" cy="1320.1" r="16.9"/><circle cx="673.9" cy="1319.6" r="16.9"/><circle cx="692.0" cy="1318.9" r="16.9"/><circle cx="710.1" cy="1318.1" r="16.9"/><circle cx="728.3" cy="1317.0" r="16.9"/><circle cx="746.5" cy="1315.8" r="16.9"/><circle cx="764.6" cy="1314.8" r="16.9"/><circle cx="782.8" cy="1314.0" r="16.9"/><circle cx="800.9" cy="1313.4" r="16.9"/><circle cx="819.0" cy="1312.8" r="16.9"/><circle cx="837.2" cy="1312.3" r="16.9"/><circle cx="855.4" cy="1311.9" r="16.9"/><circle cx="873.5" cy="1311.6" r="16.9"/><circle cx="891.6" cy="1311.3" r="16.9"/><circle cx="909.8" cy="1311.0" r="16.9"/><circle cx="928.0" cy="1310.6" r="16.9"/><circle cx="946.1" cy="1310.3" r="16.9"/><circle cx="964.2" cy="1310.0" r="16.9"/><circle cx="982.4" cy="1309.7" r="16.9"/><circle cx="1000.5" cy="1309.3" r="16.9"/><circle cx="1018.7" cy="1309.0" r="16.9"/><circle cx="1036.8" cy="1308.6" r="16.9"/><circle cx="1055.0" cy="1308.3" r="16.9"/><circle cx="1073.1" cy="1307.8" r="16.9"/><circle cx="1091.3" cy="1307.4" r="16.9"/><circle cx="1109.5" cy="1306.9" r="16.9"/><circle cx="1127.6" cy="1306.5" r="16.9"/><circle cx="1145.8" cy="1306.0" r="16.9"/><circle cx="1163.9" cy="1305.5" r="16.9"/><circle cx="1182.0" cy="1305.0" r="16.9"/><circle cx="1200.2" cy="1304.4" r="16.9"/><circle cx="1218.3" cy="1303.9" r="16.9"/><circle cx="1236.5" cy="1303.4" r="16.9"/><circle cx="1254.6" cy="1302.8" r="16.9"/><circle cx="1272.8" cy="1302.3" r="16.9"/><circle cx="1290.9" cy="1301.7" r="16.9"/><circle cx="1309.1" cy="1301.1" r="16.9"/><circle cx="1327.2" cy="1300.4" r="16.9"/><circle cx="1345.4" cy="1300.0" r="16.9"/><circle cx="1363.5" cy="1299.7" r="16.9"/><circle cx="1381.7" cy="1299.5" r="16.9"/><circle cx="1399.8" cy="1299.3" r="16.9"/><circle cx="1418.0" cy="1299.1" r="16.9"/><circle cx="1436.1" cy="1298.9" r="16.9"/><circle cx="1454.3" cy="1298.7" r="16.9"/><circle cx="1472.4" cy="1298.5" r="16.9"/><circle cx="1490.6" cy="1298.2" r="16.9"/><circle cx="1508.7" cy="1297.9" r="16.9"/><circle cx="1526.9" cy="1297.4" r="16.9"/><circle cx="1545.0" cy="1296.9" r="16.9"/><circle cx="1563.2" cy="1296.4" r="16.9"/><circle cx="1581.3" cy="1295.9" r="16.9"/><circle cx="1599.5" cy="1295.4" r="16.9"/><circle cx="1617.6" cy="1295.1" r="16.9"/><circle cx="1635.8" cy="1294.7" r="16.9"/><circle cx="1653.9" cy="1294.3" r="16.9"/><circle cx="1672.1" cy="1293.9" r="16.9"/><circle cx="1690.2" cy="1293.6" r="16.9"/><circle cx="1708.4" cy="1293.3" r="16.9"/><circle cx="1726.5" cy="1292.9" r="16.9"/><circle cx="1744.7" cy="1292.6" r="16.9"/><circle cx="1762.8" cy="1292.3" r="16.9"/><circle cx="1781.0" cy="1292.0" r="16.9"/><circle cx="1799.1" cy="1291.8" r="16.9"/><circle cx="1817.3" cy="1291.5" r="16.9"/><circle cx="1835.4" cy="1291.3" r="16.9"/><circle cx="1853.6" cy="1291.1" r="16.9"/></g>
<path d="M220.1 1369.0 L238.2 1368.6 L256.4 1368.1 L274.6 1367.5 L292.7 1366.6 L310.9 1365.2 L329.0 1363.8 L347.1 1362.4 L365.3 1360.8 L383.4 1359.0 L401.6 1357.2 L419.8 1355.2 L437.9 1352.8 L456.0 1350.0 L474.2 1346.8 L492.4 1342.9 L510.5 1339.0 L528.6 1334.5 L546.8 1330.2 L564.9 1326.9 L583.1 1322.8 L601.2 1319.5 L619.4 1317.1 L637.5 1315.1 L655.7 1313.2 L673.9 1311.3 L692.0 1309.5 L710.1 1307.7 L728.3 1305.8 L746.5 1303.9 L764.6 1301.8 L782.8 1300.0 L800.9 1298.4 L819.0 1296.9 L837.2 1295.5 L855.4 1294.1 L873.5 1292.8 L891.6 1291.4 L909.8 1289.9 L928.0 1288.4 L946.1 1286.7 L964.2 1285.0 L982.4 1283.0 L1000.5 1280.8 L1018.7 1278.3 L1036.8 1275.8 L1055.0 1273.8 L1073.1 1271.7 L1091.3 1269.5 L1109.5 1266.9 L1127.6 1264.4 L1145.8 1262.1 L1163.9 1260.0 L1182.0 1258.1 L1200.2 1256.4 L1218.3 1254.9 L1236.5 1253.6 L1254.6 1252.2 L1272.8 1250.7 L1290.9 1249.0 L1309.1 1247.2 L1327.2 1245.2 L1345.4 1243.0 L1363.5 1240.6 L1381.7 1238.2 L1399.8 1235.7 L1418.0 1233.1 L1436.1 1230.3 L1454.3 1227.1 L1472.4 1223.6 L1490.6 1219.9 L1508.7 1216.0 L1526.9 1211.8 L1545.0 1207.5 L1563.2 1203.4 L1581.3 1199.1 L1599.5 1195.0 L1617.6 1190.9 L1635.8 1186.9 L1653.9 1183.0 L1672.1 1179.4 L1690.2 1176.0 L1708.4 1172.8 L1726.5 1169.5 L1744.7 1166.4 L1762.8 1163.3 L1781.0 1160.2 L1799.1 1157.4 L1817.3 1154.4 L1835.4 1150.8 L1853.6 1146.5" stroke="#000" stroke-width="2.6" fill="none"/>
<g fill="#000000"><circle cx="220.1" cy="1369.0" r="16.9"/><circle cx="238.2" cy="1368.6" r="16.9"/><circle cx="256.4" cy="1368.1" r="16.9"/><circle cx="274.6" cy="1367.5" r="16.9"/><circle cx="292.7" cy="1366.6" r="16.9"/><circle cx="310.9" cy="1365.2" r="16.9"/><circle cx="329.0" cy="1363.8" r="16.9"/><circle cx="347.1" cy="1362.4" r="16.9"/><circle cx="365.3" cy="1360.8" r="16.9"/><circle cx="383.4" cy="1359.0" r="16.9"/><circle cx="401.6" cy="1357.2" r="16.9"/><circle cx="419.8" cy="1355.2" r="16.9"/><circle cx="437.9" cy="1352.8" r="16.9"/><circle cx="456.0" cy="1350.0" r="16.9"/><circle cx="474.2" cy="1346.8" r="16.9"/><circle cx="492.4" cy="1342.9" r="16.9"/><circle cx="510.5" cy="1339.0" r="16.9"/><circle cx="528.6" cy="1334.5" r="16.9"/><circle cx="546.8" cy="1330.2" r="16.9"/><circle cx="564.9" cy="1326.9" r="16.9"/><circle cx="583.1" cy="1322.8" r="16.9"/><circle cx="601.2" cy="1319.5" r="16.9"/><circle cx="619.4" cy="1317.1" r="16.9"/><circle cx="637.5" cy="1315.1" r="16.9"/><circle cx="655.7" cy="1313.2" r="16.9"/><circle cx="673.9" cy="1311.3" r="16.9"/><circle cx="692.0" cy="1309.5" r="16.9"/><circle cx="710.1" cy="1307.7" r="16.9"/><circle cx="728.3" cy="1305.8" r="16.9"/><circle cx="746.5" cy="1303.9" r="16.9"/><circle cx="764.6" cy="1301.8" r="16.9"/><circle cx="782.8" cy="1300.0" r="16.9"/><circle cx="800.9" cy="1298.4" r="16.9"/><circle cx="819.0" cy="1296.9" r="16.9"/><circle cx="837.2" cy="1295.5" r="16.9"/><circle cx="855.4" cy="1294.1" r="16.9"/><circle cx="873.5" cy="1292.8" r="16.9"/><circle cx="891.6" cy="1291.4" r="16.9"/><circle cx="909.8" cy="1289.9" r="16.9"/><circle cx="928.0" cy="1288.4" r="16.9"/><circle cx="946.1" cy="1286.7" r="16.9"/><circle cx="964.2" cy="1285.0" r="16.9"/><circle cx="982.4" cy="1283.0" r="16.9"/><circle cx="1000.5" cy="1280.8" r="16.9"/><circle cx="1018.7" cy="1278.3" r="16.9"/><circle cx="1036.8" cy="1275.8" r="16.9"/><circle cx="1055.0" cy="1273.8" r="16.9"/><circle cx="1073.1" cy="1271.7" r="16.9"/><circle cx="1091.3" cy="1269.5" r="16.9"/><circle cx="1109.5" cy="1266.9" r="16.9"/><circle cx="1127.6" cy="1264.4" r="16.9"/><circle cx="1145.8" cy="1262.1" r="16.9"/><circle cx="1163.9" cy="1260.0" r="16.9"/><circle cx="1182.0" cy="1258.1" r="16.9"/><circle cx="1200.2" cy="1256.4" r="16.9"/><circle cx="1218.3" cy="1254.9" r="16.9"/><circle cx="1236.5" cy="1253.6" r="16.9"/><circle cx="1254.6" cy="1252.2" r="16.9"/><circle cx="1272.8" cy="1250.7" r="16.9"/><circle cx="1290.9" cy="1249.0" r="16.9"/><circle cx="1309.1" cy="1247.2" r="16.9"/><circle cx="1327.2" cy="1245.2" r="16.9"/><circle cx="1345.4" cy="1243.0" r="16.9"/><circle cx="1363.5" cy="1240.6" r="16.9"/><circle cx="1381.7" cy="1238.2" r="16.9"/><circle cx="1399.8" cy="1235.7" r="16.9"/><circle cx="1418.0" cy="1233.1" r="16.9"/><circle cx="1436.1" cy="1230.3" r="16.9"/><circle cx="1454.3" cy="1227.1" r="16.9"/><circle cx="1472.4" cy="1223.6" r="16.9"/><circle cx="1490.6" cy="1219.9" r="16.9"/><circle cx="1508.7" cy="1216.0" r="16.9"/><circle cx="1526.9" cy="1211.8" r="16.9"/><circle cx="1545.0" cy="1207.5" r="16.9"/><circle cx="1563.2" cy="1203.4" r="16.9"/><circle cx="1581.3" cy="1199.1" r="16.9"/><circle cx="1599.5" cy="1195.0" r="16.9"/><circle cx="1617.6" cy="1190.9" r="16.9"/><circle cx="1635.8" cy="1186.9" r="16.9"/><circle cx="1653.9" cy="1183.0" r="16.9"/><circle cx="1672.1" cy="1179.4" r="16.9"/><circle cx="1690.2" cy="1176.0" r="16.9"/><circle cx="1708.4" cy="1172.8" r="16.9"/><circle cx="1726.5" cy="1169.5" r="16.9"/><circle cx="1744.7" cy="1166.4" r="16.9"/><circle cx="1762.8" cy="1163.3" r="16.9"/><circle cx="1781.0" cy="1160.2" r="16.9"/><circle cx="1799.1" cy="1157.4" r="16.9"/><circle cx="1817.3" cy="1154.4" r="16.9"/><circle cx="1835.4" cy="1150.8" r="16.9"/><circle cx="1853.6" cy="1146.5" r="16.9"/></g>
<rect x="331.6" y="136.1" width="917.4" height="535.3" fill="#fff" stroke="#1c1c1c" stroke-width="3.3"/>
<path d="M367 198.9H473" stroke="#151515" stroke-width="3.3"/>
<circle cx="419.8" cy="198.9" r="16.9" fill="#ff2020"/>
<text x="497.4" y="215.2" font-size="46.1">Unloaded formulation B</text>
<path d="M367 257.5H473" stroke="#151515" stroke-width="3.3"/>
<circle cx="419.8" cy="257.5" r="16.9" fill="#00ff20"/>
<text x="497.4" y="273.8" font-size="46.1">Unloaded formulation D</text>
<path d="M367 316.2H473" stroke="#151515" stroke-width="3.3"/>
<circle cx="419.8" cy="316.2" r="16.9" fill="#fafa2a"/>
<text x="497.4" y="332.5" font-size="46.1">Unloaded formulation E</text>
<path d="M367 374.8H473" stroke="#151515" stroke-width="3.3"/>
<circle cx="419.8" cy="374.8" r="16.9" fill="#2c00ff"/>
<text x="497.4" y="391.1" font-size="46.1">Unloaded formulation J</text>
<path d="M367 433.4H473" stroke="#151515" stroke-width="3.3"/>
<circle cx="419.8" cy="433.4" r="16.9" fill="#ff00ff"/>
<text x="497.4" y="449.7" font-size="46.1">Sulforaphane-loaded formulation B</text>
<path d="M367 492.1H473" stroke="#151515" stroke-width="3.3"/>
<circle cx="419.8" cy="492.1" r="16.9" fill="#bebebe"/>
<text x="497.4" y="508.4" font-size="46.1">Sulforaphane-loaded formulation D</text>
<path d="M367 550.7H473" stroke="#151515" stroke-width="3.3"/>
<circle cx="419.8" cy="550.7" r="16.9" fill="#9c0084"/>
<text x="497.4" y="567.0" font-size="46.1">Sulforaphane-loaded formulation E</text>
<path d="M367 609.3H473" stroke="#151515" stroke-width="3.3"/>
<circle cx="419.8" cy="609.3" r="16.9" fill="#000000"/>
<text x="497.4" y="625.6" font-size="46.1">Sulforaphane-loaded formulation J</text>
<text x="194" y="1387.2" font-size="52" text-anchor="end">0</text>
<text x="194" y="1169.5" font-size="52" text-anchor="end">5</text>
<text x="194" y="951.9" font-size="52" text-anchor="end">10</text>
<text x="194" y="734.2" font-size="52" text-anchor="end">15</text>
<text x="194" y="516.5" font-size="52" text-anchor="end">20</text>
<text x="194" y="298.9" font-size="52" text-anchor="end">25</text>
<text x="194" y="81.2" font-size="52" text-anchor="end">30</text>
<text x="220.1" y="1442.5" font-size="52" text-anchor="middle">0</text>
<text x="673.9" y="1442.5" font-size="52" text-anchor="middle">1000</text>
<text x="1127.6" y="1442.5" font-size="52" text-anchor="middle">2000</text>
<text x="1581.3" y="1442.5" font-size="52" text-anchor="middle">3000</text>
<text x="2035.1" y="1442.5" font-size="52" text-anchor="middle">4000</text>
<text x="1126.5" y="1554.6" font-size="62.5" text-anchor="middle">Time (s)</text>
<text transform="translate(80 715.8) rotate(-90)" font-size="64" text-anchor="middle">TSI</text>
</svg></div></body></html>
